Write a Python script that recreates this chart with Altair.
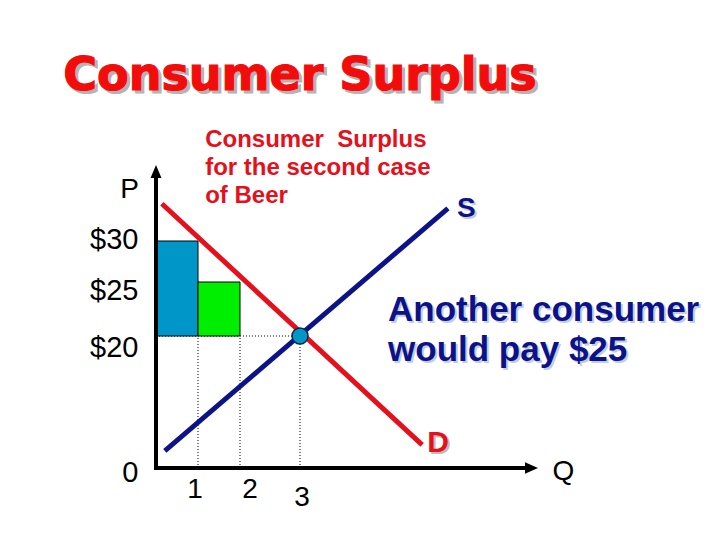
import altair as alt
import pandas as pd

# ---------------- data ----------------
quantities = [1, 2, 3]                   # Q tick positions
qty_labels = ["1", "2", "3"]
prices = [0, 20, 25, 30]                 # P tick positions
price_labels = ["0", "$20", "$25", "$30"]

bar_names = ["first beer", "second beer"]
bar_q_start = [0, 1]
bar_q_end = [1, 2]
bar_p_low = [20, 20]
bar_p_high = [30, 25]

demand_q = [0.14, 6.08]
demand_p = [34.9, 3.5]
supply_q = [0.21, 6.73]
supply_p = [2.6, 34.3]

eq_q = 3
eq_p = 20

q_axis_max = 9
p_axis_max = 40

title_text = "Consumer Surplus"
note_cs = "Consumer\u00a0 Surplus\nfor the second case\nof Beer"
note_other = "Another consumer\nwould pay $25"
label_s = "S"
label_d = "D"

# annotation anchors (in chart units)
title_anchor = (3, 49.9)
note_cs_anchor = (1.17, 42.4)
note_other_anchor = (5.22, 21.4)

# ---------------- styles ----------------
RED = "#e4101c"
TITLE_RED = "#f20c0c"
NAVY = "#0c1288"
BAR_BLUE = "#0096c8"
GREEN = "#00ee00"
FONT = "Liberation Sans"

xscale = alt.Scale(domain=[0, 1, 2, 3, q_axis_max], range=[0, 42, 84, 144, 382], nice=False, zero=False)
yscale = alt.Scale(domain=[0, 20, 25, 30, p_axis_max], range=[303, 171, 117, 76, 0], nice=False, zero=False)


def ternary(values, labels):
    expr = "''"
    for v, l in reversed(list(zip(values, labels))):
        expr = f"datum.value == {v} ? '{l}' : " + expr
    return expr


x_label_offset = {1: -3.5, 2: 9.5, 3: 1.5}
y_label_offset = {0: 4, 20: 11, 25: 8, 30: -2}

x_axis = alt.Axis(
    values=quantities, labelExpr=ternary(quantities, qty_labels),
    title="Q", titleX=407, titleY=3, titleAngle=0, titleAlign="center", titleBaseline="middle",
    titleFontSize=28, titleFontWeight="normal", titleFont=FONT, titleColor="black",
    labelFont=FONT, labelFontSize=28, labelColor="black", labelAlign="center", labelBaseline="top",
    labelPadding={"condition": {"test": "datum.value == 3", "value": 15}, "value": 7},
    labelOffset={"condition": [{"test": f"datum.value == {k}", "value": v} for k, v in x_label_offset.items()], "value": 0},
    labelFlush=False, labelOverlap=False, domain=False, ticks=False, grid=False,
)
y_axis = alt.Axis(
    values=prices, labelExpr=ternary(prices, price_labels),
    title="P", titleX=-27, titleY=24, titleAngle=0, titleAlign="center", titleBaseline="middle",
    titleFontSize=28, titleFontWeight="normal", titleFont=FONT, titleColor="black",
    labelFont=FONT, labelFontSize=29, labelColor="black", labelAlign="right", labelBaseline="middle",
    labelPadding=18,
    labelOffset={"condition": [{"test": f"datum.value == {k}", "value": v} for k, v in y_label_offset.items()], "value": 0},
    labelFlush=False, labelOverlap=False, domain=False, ticks=False, grid=False,
)

# ---------------- tables ----------------
guides = pd.DataFrame({
    "q": [0] + quantities,
    "p": [eq_p] + [0] * len(quantities),
    "q2": [eq_q] + quantities,
    "p2": [eq_p] * (len(quantities) + 1),
})
bars = pd.DataFrame({"name": bar_names, "q": bar_q_start, "q2": bar_q_end, "p": bar_p_low, "p2": bar_p_high})
axes_lines = pd.DataFrame({"q": [0, 0], "p": [0, 0], "q2": [0, q_axis_max - 0.2], "p2": [p_axis_max - 1.2, 0]})
y_arrow = pd.DataFrame({"q": [0], "p": [p_axis_max]})
x_arrow = pd.DataFrame({"q": [q_axis_max], "p": [0]})
demand = pd.DataFrame({"q": demand_q, "p": demand_p})
supply = pd.DataFrame({"q": supply_q, "p": supply_p})
eq = pd.DataFrame({"q": [eq_q], "p": [eq_p]})
title_df = pd.DataFrame({"q": [title_anchor[0]], "p": [title_anchor[1]], "t": [title_text]})
cs_df = pd.DataFrame({"q": [note_cs_anchor[0]], "p": [note_cs_anchor[1]], "t": [note_cs]})
other_df = pd.DataFrame({"q": [note_other_anchor[0]], "p": [note_other_anchor[1]], "t": [note_other]})
s_df = pd.DataFrame({"q": [supply_q[-1]], "p": [supply_p[-1]], "t": [label_s]})
d_df = pd.DataFrame({"q": [demand_q[-1]], "p": [demand_p[-1]], "t": [label_d]})


def X0():
    return alt.X("q:Q", scale=xscale, axis=x_axis)


def Y0():
    return alt.Y("p:Q", scale=yscale, axis=y_axis)


guide_layer = alt.Chart(guides).mark_rule(color="black", strokeWidth=1, strokeDash=[1, 2]).encode(
    x=X0(), y=Y0(), x2="q2:Q", y2="p2:Q")

bar_layer = alt.Chart(bars).mark_rect(stroke="black", strokeWidth=1).encode(
    x=X0(), x2="q2:Q", y=Y0(), y2="p2:Q",
    color=alt.Color("name:N", scale=alt.Scale(domain=bar_names, range=[BAR_BLUE, GREEN]), legend=None))

axis_layer = alt.Chart(axes_lines).mark_rule(color="black", strokeWidth=4, strokeCap="square").encode(
    x=X0(), x2="q2:Q", y=Y0(), y2="p2:Q")

up_arrow = alt.Chart(y_arrow).mark_point(shape="M0,0L-0.42,1L0.42,1Z", filled=True, size=676,
                                         color="black", opacity=1).encode(x=X0(), y=Y0())
right_arrow = alt.Chart(x_arrow).mark_point(shape="M0,0L-1,-0.45L-1,0.45Z", filled=True, size=676,
                                            color="black", opacity=1).encode(x=X0(), y=Y0())

demand_layer = alt.Chart(demand).mark_line(color=RED, strokeWidth=5, strokeCap="butt").encode(x=X0(), y=Y0())
supply_layer = alt.Chart(supply).mark_line(color=NAVY, strokeWidth=5, strokeCap="butt").encode(x=X0(), y=Y0())

eq_layer = alt.Chart(eq).mark_point(shape="circle", filled=True, size=256, fill=BAR_BLUE,
                                    stroke="#082a44", strokeWidth=1.5, opacity=1).encode(x=X0(), y=Y0())


def text_layer(df, **mk):
    return alt.Chart(df).mark_text(**mk).encode(x=X0(), y=Y0(), text="t:N")


title_shadow = text_layer(title_df, font="DejaVu Sans", fontWeight="bold", fontSize=46, color="#b4b4b4",
                          stroke="#b4b4b4", strokeWidth=1.2, align="center", baseline="alphabetic", dx=3, dy=3)
title_layer = text_layer(title_df, font="DejaVu Sans", fontWeight="bold", fontSize=46, color=TITLE_RED,
                         stroke=TITLE_RED, strokeWidth=1.2, align="center", baseline="alphabetic")

cs_layer = text_layer(cs_df, font=FONT, fontWeight="bold", fontSize=24, color=RED, align="left",
                      baseline="alphabetic", lineBreak="\n", lineHeight=28)

other_shadow = text_layer(other_df, font=FONT, fontWeight="bold", fontSize=35, color="#c3cde2", align="left",
                          baseline="alphabetic", lineBreak="\n", lineHeight=40, dx=2, dy=2)
other_layer = text_layer(other_df, font=FONT, fontWeight="bold", fontSize=35, color=NAVY, align="left",
                         baseline="alphabetic", lineBreak="\n", lineHeight=40)

s_shadow = text_layer(s_df, font=FONT, fontWeight="bold", fontSize=28, color="#c4cce0", align="left",
                      baseline="alphabetic", dx=11, dy=11)
s_layer = text_layer(s_df, font=FONT, fontWeight="bold", fontSize=28, color=NAVY, align="left",
                     baseline="alphabetic", dx=9, dy=9)
d_shadow = text_layer(d_df, font=FONT, fontWeight="bold", fontSize=30, color="#bdbdbd", align="left",
                      baseline="alphabetic", dx=7, dy=9)
d_layer = text_layer(d_df, font=FONT, fontWeight="bold", fontSize=30, color=RED, align="left",
                     baseline="alphabetic", dx=5, dy=7)

chart = alt.layer(
    guide_layer, bar_layer, axis_layer, up_arrow, right_arrow, demand_layer, supply_layer, eq_layer,
    title_shadow, title_layer, cs_layer, other_shadow, other_layer, s_shadow, s_layer, d_shadow, d_layer,
).properties(
    width=382, height=303,
    padding={"left": 148, "top": 157, "right": 174, "bottom": 64},
    autosize=alt.AutoSizeParams(type="none"),
    background="white",
).configure_view(stroke=None)

chart.save("out.html", embed_options={"renderer": "svg", "actions": False})
